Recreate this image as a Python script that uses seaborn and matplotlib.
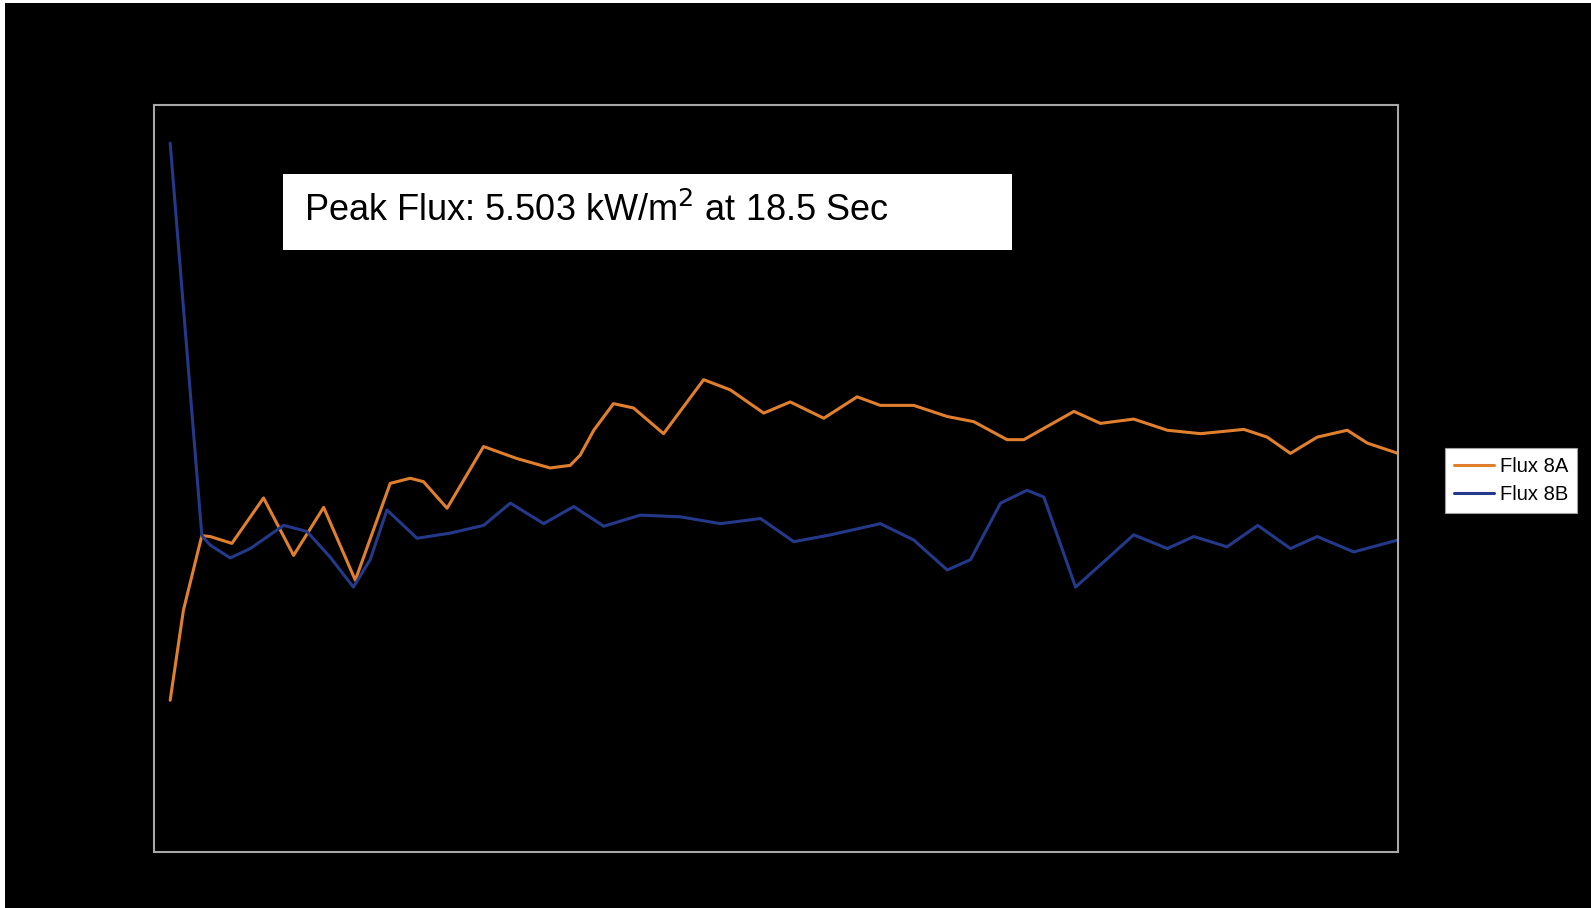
import pandas as pd
import matplotlib.pyplot as plt
from matplotlib.patches import Rectangle
import seaborn as sns

# values (time in s, flux in kW/m2)
time_8a = [2.0, 2.41, 2.98, 3.24, 3.91, 4.89, 5.82, 6.75, 7.73, 8.81, 9.43, 9.84,
           10.57, 11.70, 12.73, 13.76, 14.38, 14.69, 15.11, 15.72, 16.34, 17.27, 18.51,
           19.34, 20.37, 21.19, 22.23, 23.26, 23.98, 25.01, 26.05, 26.87, 27.90, 28.42,
           29.97, 30.79, 31.82, 32.86, 33.89, 35.23, 35.95, 36.67, 37.50, 38.43, 39.05, 40.0]
flux_8a = [1.77, 2.82, 3.69, 3.68, 3.60, 4.13, 3.46, 4.02, 3.17, 4.30, 4.36, 4.32,
           4.01, 4.73, 4.59, 4.48, 4.51, 4.63, 4.92, 5.23, 5.18, 4.88, 5.51,
           5.39, 5.12, 5.25, 5.06, 5.31, 5.21, 5.21, 5.08, 5.02, 4.81, 4.81,
           5.14, 5.00, 5.05, 4.92, 4.88, 4.93, 4.84, 4.65, 4.84, 4.92, 4.77, 4.65]

time_8b = [2.0, 2.98, 3.24, 3.86, 4.48, 5.51, 6.23, 6.95, 7.67, 8.19, 8.71, 9.64,
           10.67, 11.70, 12.53, 13.56, 14.49, 15.42, 16.55, 17.79, 19.03, 20.27, 21.30,
           22.44, 23.98, 25.01, 26.05, 26.77, 27.70, 28.52, 29.04, 30.02, 30.79, 31.82,
           32.86, 33.68, 34.71, 35.66, 36.67, 37.50, 38.63, 40.0]
flux_8b = [8.27, 3.69, 3.58, 3.43, 3.54, 3.81, 3.74, 3.44, 3.09, 3.41, 3.99, 3.66,
           3.72, 3.81, 4.07, 3.83, 4.03, 3.80, 3.93, 3.91, 3.83, 3.89, 3.62,
           3.70, 3.83, 3.64, 3.29, 3.41, 4.07, 4.22, 4.14, 3.09, 3.35, 3.70,
           3.54, 3.68, 3.56, 3.81, 3.54, 3.68, 3.50, 3.64]

series_names = ['Flux 8A', 'Flux 8B']
series_colors = ['#E0802E', '#24398A']
note = 'Peak Flux: 5.503 kW/m$^2$ at 18.5 Sec'

df = pd.concat([
    pd.DataFrame({'time': time_8a, 'flux': flux_8a, 'sensor': series_names[0]}),
    pd.DataFrame({'time': time_8b, 'flux': flux_8b, 'sensor': series_names[1]}),
])

sns.set_style('dark', {'axes.facecolor': 'black', 'figure.facecolor': 'white'})
plt.rcParams['font.family'] = ['Liberation Sans', 'DejaVu Sans']

fig = plt.figure(figsize=(15.91, 9.08), dpi=100)
fig.add_artist(Rectangle((5 / 1591, 0), 1, 1 - 3 / 908, transform=fig.transFigure,
                         facecolor='black', edgecolor='none', zorder=-1))
ax = fig.add_axes([0.0968, 0.0617, 0.7819, 0.8232])
ax.set_facecolor('black')

sns.lineplot(data=df, x='time', y='flux', hue='sensor', palette=series_colors,
             linewidth=2.2, sort=False, estimator=None, ax=ax)

ax.set_xlim(1.5, 40)
ax.set_ylim(0, 8.72)
ax.set_xticks([])
ax.set_yticks([])
ax.set_xlabel('')
ax.set_ylabel('')
for s in ax.spines.values():
    s.set_visible(True)
    s.set_color('#A8A8A8')
    s.set_linewidth(1.5)

# annotation box
ax.add_patch(Rectangle((0.1037, 0.8059), 0.586, 0.1005, transform=ax.transAxes,
                       facecolor='white', edgecolor='none', zorder=3))
ax.text(0.1206, 0.8441, note, transform=ax.transAxes, fontsize=26,
        color='black', ha='left', va='baseline', zorder=4)

leg = ax.legend(loc='center', bbox_to_anchor=(0.9497, 0.4708), bbox_transform=fig.transFigure,
                fontsize=14.5, frameon=True, fancybox=False, framealpha=1,
                facecolor='white', edgecolor='#A0A0A0', handlelength=2.0,
                handletextpad=0.3, labelspacing=0.45, borderpad=0.45, borderaxespad=0)
leg.get_frame().set_linewidth(0.8)
for t in leg.get_texts():
    t.set_color('black')

fig.savefig('out.png', dpi=100)
